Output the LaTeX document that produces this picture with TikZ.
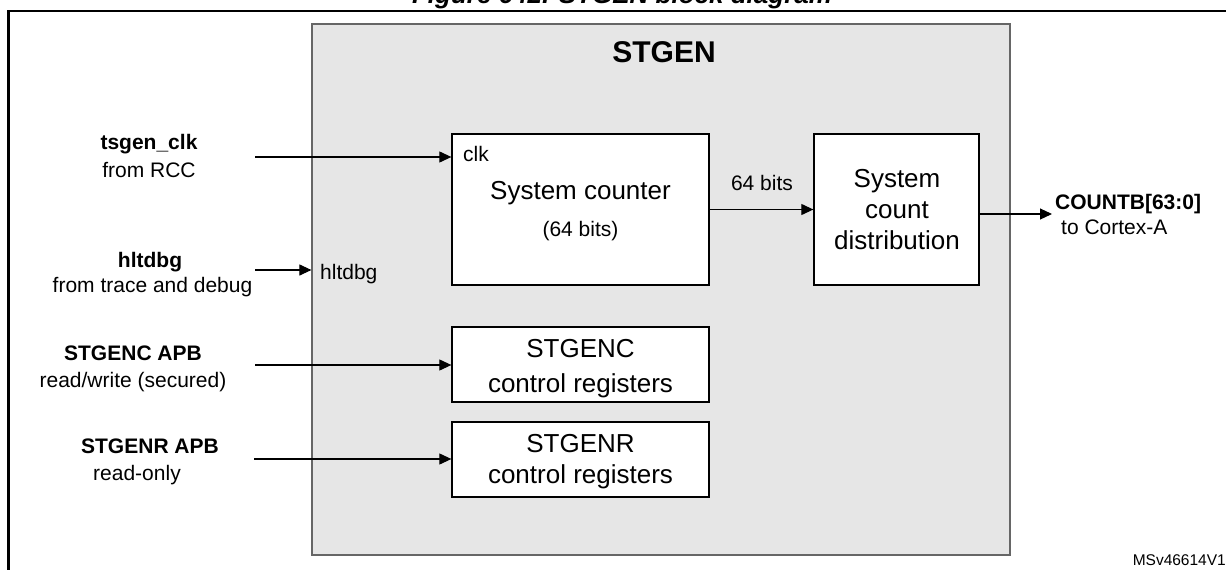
\documentclass[tikz,border=0pt]{standalone}
\usepackage{fontspec}
\setmainfont{Liberation Sans}
\usetikzlibrary{arrows.meta}
\definecolor{panelgray}{HTML}{E6E6E6}
\begin{document}
\begin{tikzpicture}[x=1pt,y=-1pt,
  blockbox/.style={draw=black, line width=1.3pt, fill=white, inner sep=0pt},
  arr/.style={-{Triangle[length=12pt,width=11pt]}, line width=1.1pt},
  txt/.style={font=\fontsize{21}{25}\selectfont, anchor=base, inner sep=0pt},
  txtb/.style={font=\bfseries\fontsize{21}{25}\selectfont, anchor=base, inner sep=0pt},
  bigtxt/.style={font=\fontsize{26}{31}\selectfont, anchor=base, inner sep=0pt}]
\useasboundingbox (0,0) rectangle (1226,570);
% cut title and frame
\node[font=\bfseries\itshape\fontsize{26}{30}\selectfont, anchor=base, inner sep=0pt] (title) at (622,4) {Figure 642. STGEN block diagram};
\draw[line width=2.5pt] (8.5,640) -- (8.5,11) -- (1300,11);
% STGEN panel
\node[draw=black!60, line width=1.2pt, fill=panelgray, minimum width=698pt, minimum height=531pt, inner sep=0pt] (stgen) at (661,289.5) {};
\node[font=\bfseries\fontsize{30}{36}\selectfont, anchor=base, inner sep=0pt] (stgentitle) at (664,62) {STGEN};
% blocks
\node[blockbox, minimum width=257pt, minimum height=151pt] (sc) at (580.5,209.5) {};
\node[blockbox, minimum width=165pt, minimum height=151pt] (dist) at (896.5,209.5) {};
\node[blockbox, minimum width=257pt, minimum height=75pt] (regc) at (580.5,364.5) {};
\node[blockbox, minimum width=257pt, minimum height=75pt] (regr) at (580.5,459.5) {};
% block texts
\node[txt, anchor=base west] (clk) at (463,161) {clk};
\node[bigtxt] (sct) at (580.5,199) {System counter};
\node[txt] (scb) at (580.5,236) {(64 bits)};
\node[bigtxt] (d1) at (897,187) {System};
\node[bigtxt] (d2) at (897,218) {count};
\node[bigtxt] (d3) at (897,249) {distribution};
\node[bigtxt] (rc1) at (580.5,357) {STGENC};
\node[bigtxt] (rc2) at (580.5,392) {control registers};
\node[bigtxt] (rr1) at (580.5,452) {STGENR};
\node[bigtxt] (rr2) at (580.5,483) {control registers};
\node[txt, anchor=base west] (hin) at (320,279.5) {hltdbg};
% left labels
\node[txtb] (l1a) at (149,149) {tsgen\_clk};
\node[txt] (l1b) at (149,177) {from RCC};
\node[txtb] (l2a) at (150,267) {hltdbg};
\node[txt] (l2b) at (152.5,292) {from trace and debug};
\node[txtb] (l3a) at (133,360) {STGENC APB};
\node[txt] (l3b) at (133,387) {read/write (secured)};
\node[txtb] (l4a) at (150,453) {STGENR APB};
\node[txt] (l4b) at (137,480) {read-only};
% right labels
\node[txtb, anchor=base west] (outa) at (1055,209) {COUNTB[63:0]};
\node[txt, anchor=base west] (outb) at (1061,234.5) {to Cortex-A};
\node[txt] (bits) at (762,190) {64 bits};
\node[font=\fontsize{15.5}{18}\selectfont, anchor=base east, inner sep=0pt] (ref) at (1226,565) {MSv46614V1};
% connectors
\coordinate (c1) at (255,157);
\coordinate (c2) at (255,270);
\coordinate (c3) at (255,365);
\coordinate (c4) at (254,459);
\coordinate (c6) at (1052,214);
\draw[arr] (c1) -- (c1 -| sc.west);
\draw[arr] (c2) -- (c2 -| stgen.west);
\draw[arr] (c3) -- (c3 -| regc.west);
\draw[arr] (c4) -- (c4 -| regr.west);
\draw[arr] (sc.east) -- (dist.west);
\draw[arr] (c6 -| dist.east) -- (c6);
\end{tikzpicture}
\end{document}
